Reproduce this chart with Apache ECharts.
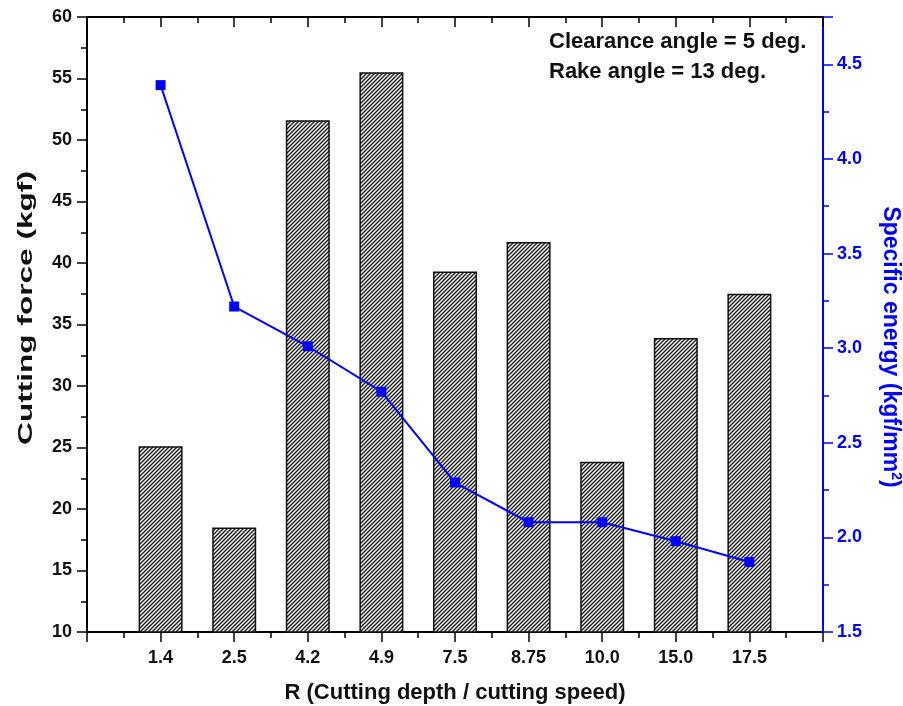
<!DOCTYPE html>
<html>
<head>
<meta charset="utf-8">
<script src="https://cdn.jsdelivr.net/npm/echarts@6/dist/echarts.min.js"></script>
<style>
  html, body { margin: 0; padding: 0; background: #fff; }
  #chart { width: 903px; height: 706px; }
</style>
</head>
<body>
<div id="chart"></div>
<script>
// R values (cutting depth / cutting speed)
const categories = ['1.4', '2.5', '4.2', '4.9', '7.5', '8.75', '10.0', '15.0', '17.5'];
// cutting force (kgf), left axis
const cuttingForce = [25.1, 18.5, 51.6, 55.5, 39.3, 41.7, 23.85, 33.9, 37.5];
// specific energy (kgf/mm2), right axis
const specificEnergy = [4.39, 3.22, 3.01, 2.77, 2.29, 2.08, 2.08, 1.98, 1.87];

const forceTicks = { min: 10, max: 60, interval: 5 };
const energyTicks = { min: 1.5, max: 4.75, interval: 0.5 };

const FONT = '"Liberation Sans", Arial, sans-serif';

// hatch pattern for the bars (////)
function makeHatch() {
  const s = 4;
  const c = document.createElement('canvas');
  c.width = s; c.height = s;
  const ctx = c.getContext('2d');
  ctx.fillStyle = '#ffffff';
  ctx.fillRect(0, 0, s, s);
  ctx.strokeStyle = '#1a1a1a';
  ctx.lineWidth = 1.4;
  ctx.beginPath();
  ctx.moveTo(-1, s + 1); ctx.lineTo(s + 1, -1);
  ctx.moveTo(-1, 1); ctx.lineTo(1, -1);
  ctx.moveTo(s - 1, s + 1); ctx.lineTo(s + 1, s - 1);
  ctx.stroke();
  return c;
}

const myChart = echarts.init(document.getElementById('chart'));

const xCommon = {
  type: 'value',
  min: 0,
  max: categories.length + 1,
  interval: 1,
  splitLine: { show: false },
  axisLine: { onZero: false, lineStyle: { color: '#000', width: 2 } },
  minorTick: { show: true, splitNumber: 2, length: 6, lineStyle: { color: '#000', width: 1.5 } },
};

const option = {
  backgroundColor: '#ffffff',
  animation: false,
  grid: { left: 87, right: 80, top: 17, bottom: 74, outerBoundsMode: 'none' },
  xAxis: [
    Object.assign({}, xCommon, {
      position: 'bottom',
      name: 'R (Cutting depth / cutting speed)',
      nameLocation: 'middle',
      nameGap: 50,
      nameTextStyle: { fontFamily: FONT, fontWeight: 'bold', fontSize: 22, color: '#111' },
      axisTick: { length: 10, lineStyle: { color: '#000', width: 1.5 } },
      axisLabel: {
        margin: 17,
        fontFamily: FONT, fontWeight: 'bold', fontSize: 18, color: '#111',
        formatter: v => categories[v - 1] || ''
      }
    }),
    Object.assign({}, xCommon, {
      position: 'top',
      axisTick: { inside: true, length: 10, lineStyle: { color: '#000', width: 1.5 } },
      axisLabel: { show: false }
    })
  ],
  yAxis: [
    {
      type: 'value',
      position: 'left',
      min: forceTicks.min,
      max: forceTicks.max,
      interval: forceTicks.interval,
      splitLine: { show: false },
      axisLine: { show: true, onZero: false, lineStyle: { color: '#000', width: 2 } },
      axisTick: { show: true, length: 10, lineStyle: { color: '#000', width: 1.5 } },
      minorTick: { show: true, splitNumber: 2, length: 6, lineStyle: { color: '#000', width: 1.5 } },
      axisLabel: { margin: 15, fontFamily: FONT, fontWeight: 'bold', fontSize: 18, color: '#111' }
    },
    {
      type: 'value',
      position: 'right',
      min: energyTicks.min,
      max: energyTicks.max,
      interval: energyTicks.interval,
      splitLine: { show: false },
      axisLine: { show: true, onZero: false, lineStyle: { color: '#0000ff', width: 2 } },
      axisTick: { show: true, length: 10, lineStyle: { color: '#0000ff', width: 1.5 } },
      minorTick: { show: true, splitNumber: 2, length: 6, lineStyle: { color: '#0000ff', width: 1.5 } },
      axisLabel: {
        margin: 14, showMaxLabel: false,
        fontFamily: FONT, fontWeight: 'bold', fontSize: 18, color: '#0000ff',
        formatter: v => v.toFixed(1)
      }
    }
  ],
  graphic: [
    {
      // left axis title, stretched along its length like the original
      type: 'text', x: 26, y: 308, rotation: Math.PI / 2, scaleX: 1.58,
      style: {
        text: 'Cutting force (kgf)', font: 'bold 20px ' + FONT, fill: '#111',
        align: 'center', verticalAlign: 'middle'
      }
    },
    {
      type: 'text', x: 890, y: 347, rotation: -Math.PI / 2,
      style: {
        text: '{t|Specific energy (kgf/mm}{s|2}{t|)}',
        align: 'center', verticalAlign: 'middle',
        rich: {
          t: { font: 'bold 23px ' + FONT, fill: '#0000ff' },
          s: { font: 'bold 14px ' + FONT, fill: '#0000ff', padding: [0, 0, 12, 0] }
        }
      }
    },
    {
      type: 'text', left: 549, top: 31,
      style: { text: 'Clearance angle = 5 deg.', font: 'bold 22px ' + FONT, fill: '#111' }
    },
    {
      type: 'text', left: 549, top: 61,
      style: { text: 'Rake angle = 13 deg.', font: 'bold 22px ' + FONT, fill: '#111' }
    }
  ],
  series: [
    {
      name: 'Cutting force',
      type: 'bar',
      xAxisIndex: 0,
      yAxisIndex: 0,
      barWidth: 44,
      data: categories.map((c, i) => [i + 1, cuttingForce[i]]),
      itemStyle: {
        color: { image: makeHatch(), repeat: 'repeat' },
        borderColor: '#111',
        borderWidth: 1.5
      }
    },
    {
      name: 'Specific energy',
      type: 'line',
      xAxisIndex: 0,
      yAxisIndex: 1,
      data: categories.map((c, i) => [i + 1, specificEnergy[i]]),
      symbol: 'rect',
      symbolSize: 10,
      lineStyle: { color: '#0000ff', width: 2 },
      itemStyle: { color: '#0000ff' },
      z: 5
    }
  ]
};

myChart.setOption(option);
</script>
</body>
</html>
